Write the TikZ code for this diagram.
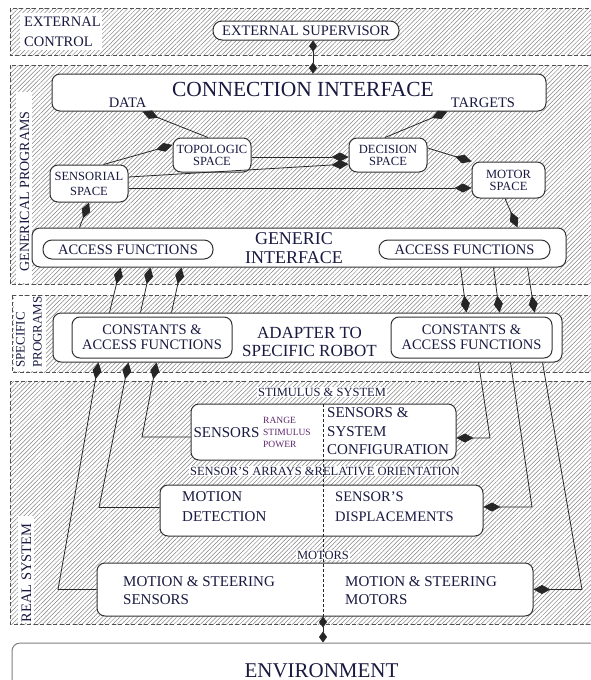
\documentclass[tikz,border=0pt]{standalone}
\usepackage{fontspec}
\setmainfont{Liberation Serif}
\usetikzlibrary{arrows.meta,patterns.meta}

\definecolor{ink}{RGB}{25,25,65}
\definecolor{edge}{RGB}{50,50,50}
\definecolor{hatch}{RGB}{130,130,130}
\definecolor{dashc}{RGB}{80,80,80}
\definecolor{faint}{RGB}{95,40,110}

\tikzset{
  panel/.style={pattern={Lines[angle=45,distance=3.1pt,line width=0.5pt]},
    pattern color=hatch, draw=dashc, line width=0.9pt, dash pattern=on 4pt off 2.5pt},
  box/.style={draw=edge, fill=white, line width=1pt, rounded corners=8pt, inner sep=0pt},
  pill/.style={box, rounded corners=9pt, text=ink},
  txt/.style={text=ink, inner sep=0pt},
  tag/.style={txt, fill=white, inner sep=1pt, font=\fontsize{12.5}{14}\selectfont},
  link/.style={draw=black!85, line width=0.8pt, >={Diamond[length=17pt,width=9pt]}},
  shortlink/.style={draw=black!85, line width=0.8pt, >={Diamond[length=11pt,width=8pt]}},
  divider/.style={draw=black!85, line width=0.8pt, dash pattern=on 3pt off 2pt},
  space/.style={box, align=center, text=ink, font=\fontsize{12.5}{12}\selectfont}
}

\begin{document}
\begin{tikzpicture}[x=1pt,y=-1pt]
\useasboundingbox (0,0) rectangle (591,680);
\clip (0,0) rectangle (591,680);
\fill[white] (0,0) rectangle (591,680);

% layered panels
\path[panel] (10,8) rectangle (600,55);
\path[panel] (10,65) rectangle (600,284);
\path[panel] (12,295) rectangle (600,372);
\path[panel] (10,381) rectangle (600,624);

% panel titles
\fill[white] (20,13) rectangle (102,50);
\node[txt, align=left, anchor=west, font=\fontsize{14.5}{20}\selectfont] (extlbl) at (24,32) {EXTERNAL\\CONTROL};
\fill[white] (16,92) rectangle (32,283);
\node[txt, rotate=90, font=\fontsize{14}{16}\selectfont] (genlbl) at (24.5,191.5) {GENERICAL PROGRAMS};
\fill[white] (14,296) rectangle (46,371);
\node[txt, rotate=90, align=left, font=\fontsize{13}{17}\selectfont] (spclbl) at (29,332) {SPECIFIC\\PROGRAMS};
\fill[white] (18,516) rectangle (34,623);
\node[txt, rotate=90, font=\fontsize{14.5}{16}\selectfont] (reallbl) at (26.5,573) {REAL SYSTEM};

% external control
\node[pill, minimum width=186pt, minimum height=19pt, font=\fontsize{14.5}{16}\selectfont] (sup) at (306,30.5) {EXTERNAL SUPERVISOR};

% generical programs
\node[box, minimum width=494pt, minimum height=37pt] (ci) at (299,92.5) {};
\node[txt, font=\fontsize{21.5}{24}\selectfont] (citl) at (303,89.5) {CONNECTION INTERFACE};
\node[txt, font=\fontsize{14.5}{16}\selectfont] (data) at (127.5,103) {DATA};
\node[txt, font=\fontsize{14.5}{16}\selectfont] (tgts) at (483,102.5) {TARGETS};

\node[space, minimum width=78pt, minimum height=34pt] (topo) at (212,155) {TOPOLOGIC\\SPACE};
\node[space, minimum width=78pt, minimum height=37pt, font=\fontsize{12.5}{15}\selectfont] (sens) at (89,183.5) {SENSORIAL\\SPACE};
\node[space, minimum width=78pt, minimum height=34pt] (dec) at (388,155) {DECISION\\SPACE};
\node[space, minimum width=73pt, minimum height=36pt] (mot) at (508.5,180) {MOTOR\\SPACE};

\node[box, minimum width=534pt, minimum height=39pt] (gi) at (299,247.5) {};
\node[txt, align=center, font=\fontsize{18}{19}\selectfont] (gitl) at (294,248) {GENERIC\\INTERFACE};
\node[pill, minimum width=170pt, minimum height=19pt, font=\fontsize{14.5}{16}\selectfont] (af1) at (128,249.5) {ACCESS FUNCTIONS};
\node[pill, minimum width=171pt, minimum height=19pt, font=\fontsize{14.5}{16}\selectfont] (af2) at (464.5,249.5) {ACCESS FUNCTIONS};

% specific programs
\node[box, minimum width=509pt, minimum height=49pt] (adapter) at (307.5,337.5) {};
\node[txt, align=center, font=\fontsize{17}{18}\selectfont] (adtl) at (309.5,342) {ADAPTER TO\\SPECIFIC ROBOT};
\node[box, minimum width=160pt, minimum height=41pt, align=center, text=ink, font=\fontsize{14.5}{15}\selectfont] (ca1) at (152,337.5) {CONSTANTS \&\\ACCESS FUNCTIONS};
\node[box, minimum width=161pt, minimum height=41pt, align=center, text=ink, font=\fontsize{14.5}{15}\selectfont] (ca2) at (471.5,337.5) {CONSTANTS \&\\ACCESS FUNCTIONS};

% real system
\node[tag] (stim) at (322,392) {STIMULUS \& SYSTEM};
\node[box, minimum width=265pt, minimum height=56pt] (sensbox) at (323.5,432) {};
\node[txt, font=\fontsize{15}{16}\selectfont] (senst) at (226.5,433) {SENSORS};
\node[txt, text=faint, align=left, anchor=west, font=\fontsize{9.5}{12}\selectfont] (rsp) at (263,432) {RANGE\\STIMULUS\\POWER};
\node[txt, align=left, anchor=west, font=\fontsize{15}{18.5}\selectfont] (ssc) at (327,431.5) {SENSORS \&\\SYSTEM\\CONFIGURATION};
\node[tag] (arr) at (325,471) {SENSOR'S ARRAYS \&RELATIVE ORIENTATION};

\node[box, minimum width=323pt, minimum height=51pt] (mdbox) at (321.5,510.5) {};
\node[txt, align=left, anchor=west, font=\fontsize{15}{20}\selectfont] (mdt) at (182,507) {MOTION\\DETECTION};
\node[txt, align=left, anchor=west, font=\fontsize{14.5}{20}\selectfont] (sdt) at (335,507) {SENSOR'S\\DISPLACEMENTS};
\node[tag] (motl) at (323,555) {MOTORS};

\node[box, minimum width=436pt, minimum height=53pt] (msbox) at (315,589.5) {};
\node[txt, align=left, anchor=west, font=\fontsize{15}{17.5}\selectfont] (mss) at (123,590.5) {MOTION \& STEERING\\SENSORS};
\node[txt, align=left, anchor=west, font=\fontsize{15}{17.5}\selectfont] (msm) at (345,590.5) {MOTION \& STEERING\\MOTORS};

% environment
\node[box, draw=gray, minimum width=588pt, minimum height=70pt] (env) at (306,678) {};
\node[txt, anchor=base, font=\fontsize{21}{24}\selectfont] (envt) at (321.5,677) {ENVIRONMENT};

% stimulus / motor split of the real system
\coordinate (dv) at (323,404);
\draw[divider] (dv) -- (dv |- msbox.south);

% connectors: supervisor and environment
\coordinate (sa) at ([xshift=7pt]sup.south);
\draw[shortlink,<->] (sa) -- (sa |- ci.north);
\draw[shortlink,<->] (msbox.south -| dv) -- (env.north -| dv);

% connectors: generical programs
\draw[link,->] ([xshift=-4pt]topo.north) -- ([xshift=91pt]ci.south west);
\draw[link,->] ([xshift=-25pt]sens.north east) -- ([yshift=10pt]topo.west);
\draw[link,->] ([yshift=-2pt]topo.east) -- ([yshift=-2pt]dec.west);
\draw[link,->] ([yshift=6.5pt]sens.east) -- ([yshift=-9pt]dec.west);
\coordinate (sm) at ([yshift=-4.5pt]sens.east);
\draw[link,->] (sm) -- (sm -| mot.west);
\draw[link,->] ([xshift=-3pt]dec.north) -- ([xshift=-99pt]ci.south east);
\draw[link,->] ([yshift=7pt]dec.east) -- (mot.north west);
\draw[link,->] ([xshift=-3.5pt]mot.south) -- ([xshift=-49pt]gi.north east);
\draw[link,->] ([xshift=48pt]gi.north west) -- (sens.south);

% connectors: generic interface <-> adapter
\foreach \a/\b in {57/89, 88/119, 119/150}
  \draw[link,->] ([xshift=\a pt]adapter.north west) -- ([xshift=\b pt]gi.south west);
\foreach \a/\b in {429/414, 462/447, 496/482}
  \draw[link,->] ([xshift=\a pt]gi.south west) -- ([xshift=\b pt]adapter.north west);

% connectors: real system -> adapter (sensing side)
\coordinate (e1) at (58,589.5);
\draw[link,->] (msbox.west) -- (e1) -- ([xshift=46pt]adapter.south west);
\coordinate (e2) at (99,507.5);
\draw[link,->] ([yshift=3pt]mdbox.west) -- (e2) -- ([xshift=76pt]adapter.south west);
\coordinate (e3) at (142,437);
\draw[link,->] ([yshift=-5pt]sensbox.west) -- (e3) -- ([xshift=104pt]adapter.south west);

% connectors: adapter -> real system (acting side)
\coordinate (f1) at (490,438);
\draw[link,->] ([xshift=-84pt]adapter.south east) -- (f1) -- ([yshift=-6pt]sensbox.east);
\coordinate (f2) at (532,507);
\draw[link,->] ([xshift=-52pt]adapter.south east) -- (f2) -- ([yshift=3.5pt]mdbox.east);
\coordinate (f3) at (582,589.5);
\draw[link,->] ([xshift=-20pt]adapter.south east) -- (f3) -- (msbox.east);
\end{tikzpicture}
\end{document}
